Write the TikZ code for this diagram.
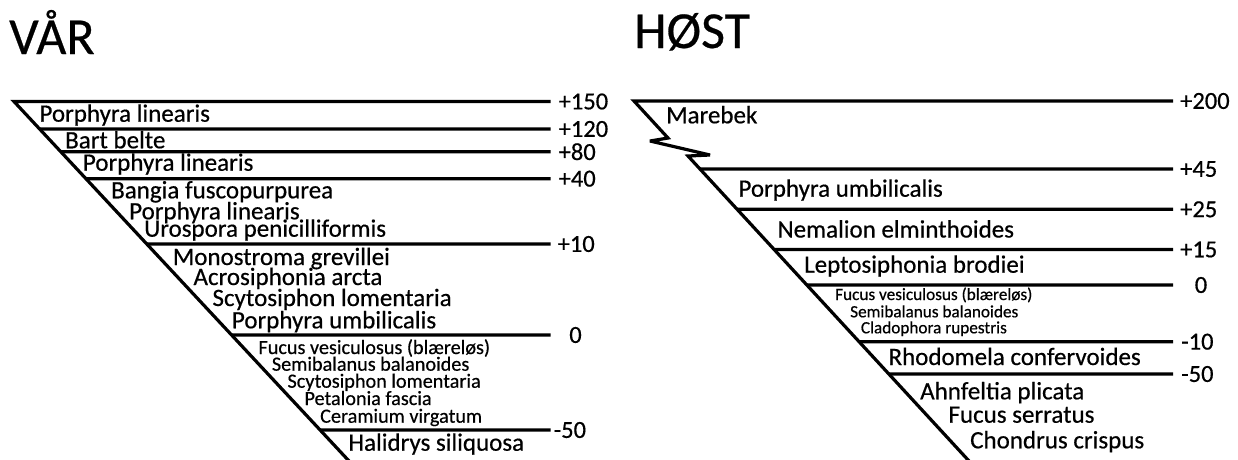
\documentclass[tikz,border=0pt]{standalone}
\usepackage{fontspec}
\setmainfont{Carlito}[RawFeature={embolden=0.5}]
\begin{document}
\begin{tikzpicture}[x=1pt,y=-1pt,
  rule/.style={line width=3.2pt, line join=miter, miter limit=3},
  heading/.style={anchor=base west, inner sep=0pt, font=\fontsize{52}{52}\selectfont},
  taxon/.style={anchor=base west, inner sep=0pt, font=\fontsize{25}{25}\selectfont},
  taxonS/.style={anchor=base west, inner sep=0pt, font=\fontsize{20.2}{20.2}\selectfont},
  taxonT/.style={anchor=base west, inner sep=0pt, font=\fontsize{17.2}{17.2}\selectfont},
  lvl/.style={anchor=west, inner sep=0pt, font=\fontsize{24.5}{24.5}\selectfont},
  lvlc/.style={anchor=center, inner sep=0pt, font=\fontsize{24.5}{24.5}\selectfont}]
\useasboundingbox (0,0) rectangle (1238,459);

% ---------- spring (left panel) ----------
\node[heading] (tV) at (9,54) {VÅR};

\coordinate (vTop) at (14,101.5);
\coordinate (vBot) at (349,461);
\coordinate (v150) at (550.5,101.5);
\draw[rule] (v150) -- (vTop) -- (vBot);

\foreach \nm/\yy in {v120/129, v80/151.7, v40/178.7, v10/244, v0/335, vm50/430}
  \draw[rule] (intersection of vTop--vBot and 0,\yy--1,\yy) -- (550.5,\yy) coordinate (\nm);

\node[lvl] (nv150) at ([xshift=8pt]v150) {+150};
\node[lvl] (nv120) at ([xshift=8pt]v120) {+120};
\node[lvl] (nv80)  at ([xshift=8pt]v80)  {+80};
\node[lvl] (nv40)  at ([xshift=8pt]v40)  {+40};
\node[lvl] (nv10)  at ([xshift=7pt]v10)  {+10};
\node[lvlc] (nv0)  at ([xshift=25pt]v0)  {0};
\node[lvl] (nvm50) at ([xshift=3pt]vm50) {-50};

\node[taxon]  (a1)  at (39.3,121.7)  {Porphyra linearis};
\node[taxon]  (a2)  at (65,148.3)    {Bart belte};
\node[taxon]  (a3)  at (82.7,170.7)  {Porphyra linearis};
\node[taxon]  (a4)  at (111,198.3)   {Bangia fuscopurpurea};
\node[taxon]  (a5)  at (129,219.3)   {Porphyra linearis};
\node[taxon]  (a6)  at (144,236.7)   {Urospora penicilliformis};
\node[taxon]  (a7)  at (172.7,265)   {Monostroma grevillei};
\node[taxon]  (a8)  at (193.3,285)   {Acrosiphonia arcta};
\node[taxon]  (a9)  at (212.3,306)   {Scytosiphon lomentaria};
\node[taxon]  (a10) at (231.7,328.3) {Porphyra umbilicalis};
\node[taxonS] (a11) at (258.3,354)   {Fucus vesiculosus (blæreløs)};
\node[taxonS] (a12) at (271.7,370.7) {Semibalanus balanoides};
\node[taxonS] (a13) at (287.3,387.7) {Scytosiphon lomentaria};
\node[taxonS] (a14) at (304.3,405)   {Petalonia fascia};
\node[taxonS] (a15) at (320,422.7)   {Ceramium virgatum};
\node[taxon]  (a16) at (348.3,450.7) {Halidrys siliquosa};

% ---------- autumn (right panel) ----------
\node[heading] (tH) at (634,48) {HØST};

\coordinate (hTop) at (634,101);
\coordinate (z1) at (668,138);
\coordinate (z2) at (650,141);
\coordinate (z3) at (710,155);
\coordinate (z4) at (688,156);
\coordinate (hBot) at (969,461);
\coordinate (h200) at (1173,101);
\draw[rule] (h200) -- (hTop) -- (z1) -- (z2) -- (z3) -- (z4) -- (hBot);

\foreach \nm/\yy in {h45/169, h25/209.3, h15/249.5, h0/285, hm10/341.7, hm50/374}
  \draw[rule] (intersection of z4--hBot and 0,\yy--1,\yy) -- (1173,\yy) coordinate (\nm);

\node[lvl] (nh200) at ([xshift=7pt]h200) {+200};
\node[lvl] (nh45)  at ([xshift=7pt]h45)  {+45};
\node[lvl] (nh25)  at ([xshift=7pt]h25)  {+25};
\node[lvl] (nh15)  at ([xshift=7pt]h15)  {+15};
\node[lvlc] (nh0)  at ([xshift=28pt]h0)  {0};
\node[lvl] (nhm10) at ([xshift=8pt]hm10) {-10};
\node[lvl] (nhm50) at ([xshift=8pt]hm50) {-50};

\node[taxon]  (b1)  at (666,123.3)   {Marebek};
\node[taxon]  (b2)  at (738.3,196.7) {Porphyra umbilicalis};
\node[taxon]  (b3)  at (777.3,237.5) {Nemalion elminthoides};
\node[taxon]  (b4)  at (804,272.7)   {Leptosiphonia brodiei};
\node[taxonT] (b5)  at (835,300)     {Fucus vesiculosus (blæreløs)};
\node[taxonT] (b6)  at (850,317.3)   {Semibalanus balanoides};
\node[taxonT] (b7)  at (860.7,333.3) {Cladophora rupestris};
\node[taxon]  (b8)  at (888.3,365)   {Rhodomela confervoides};
\node[taxon]  (b9)  at (920,399.3)   {Ahnfeltia plicata};
\node[taxon]  (b10) at (948.3,422.7) {Fucus serratus};
\node[taxon]  (b11) at (970,448.3)   {Chondrus crispus};
\end{tikzpicture}
\end{document}
